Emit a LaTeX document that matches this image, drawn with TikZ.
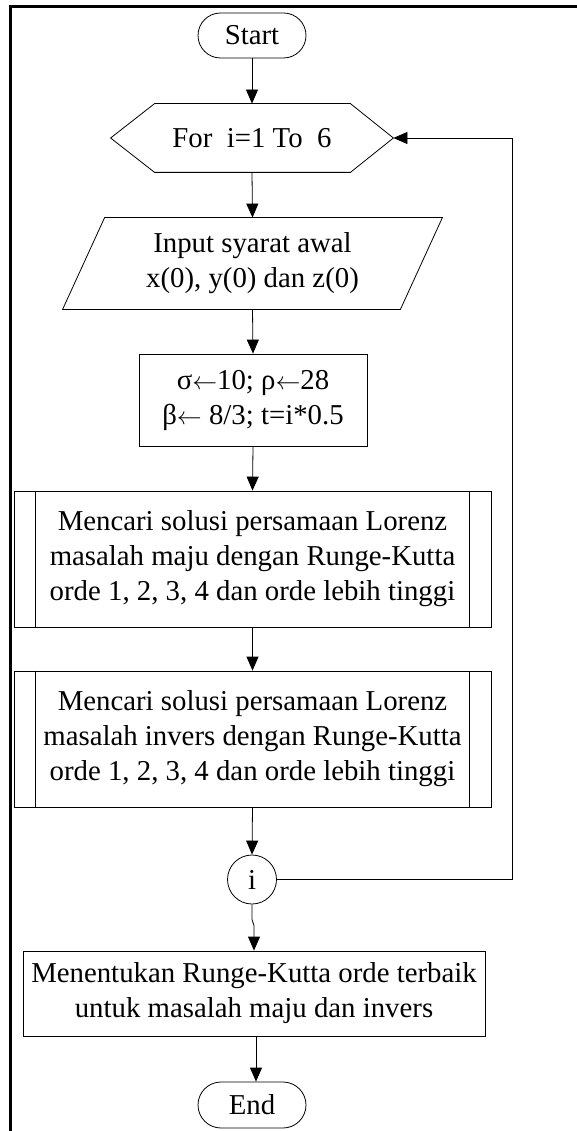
\documentclass[tikz,border=0pt]{standalone}
\usepackage{fontspec}
\setmainfont{Liberation Serif}
\usetikzlibrary{arrows.meta,shapes.misc,calc}
\newcommand{\larr}{\(\leftarrow\)}
\begin{document}
\begin{tikzpicture}[x=1pt,y=-1pt,
  base/.style={font=\fontsize{28.8}{35}\selectfont, align=center, inner sep=0pt, line width=0.8pt},
  term/.style={base, draw, rounded rectangle, minimum width=108pt, minimum height=45pt},
  ghost/.style={base, rectangle},
  boxed/.style={base, draw, rectangle},
  conn/.style={base, draw, circle, minimum size=49pt},
  shp/.style={line width=0.8pt},
  arr/.style={line width=0.8pt, -{Triangle[length=14pt,width=12pt]}}]
\useasboundingbox (0,0) rectangle (577,1131);
% frame
\draw[line width=3pt] (10,1131) -- (10,6.5) -- (577,6.5);
% nodes
\node[term] (start) at (252,35.5) {Start};
\node[ghost, minimum width=282pt, minimum height=68pt] (for) at (252,138) {For~~i=1 To~~6};
\node[ghost, minimum width=379pt, minimum height=91pt] (inp) at (252.5,263.5) {Input syarat awal\\x(0), y(0) dan z(0)};
\node[boxed, minimum width=228pt, minimum height=92pt] (par) at (253,400) {σ\larr10; ρ\larr28\\β\larr\ 8/3; t=i*0.5};
\node[boxed, minimum width=477pt, minimum height=136pt] (p1) at (252.5,559) {Mencari solusi persamaan Lorenz\\masalah maju dengan Runge-Kutta\\orde 1, 2, 3, 4 dan orde lebih tinggi};
\node[boxed, minimum width=477pt, minimum height=136pt] (p2) at (252.5,739) {Mencari solusi persamaan Lorenz\\masalah invers dengan Runge-Kutta\\orde 1, 2, 3, 4 dan orde lebih tinggi};
\node[conn] (c) at (252,879.5) {i};
\node[boxed, minimum width=462pt, minimum height=85pt] (fin) at (254,993.5) {Menentukan Runge-Kutta orde terbaik\\untuk masalah maju dan invers};
\node[term, minimum height=46pt] (end) at (252,1105) {End};
% shapes drawn by hand
\draw[shp] (for.west) -- ([xshift=44pt]for.north west) -- ([xshift=-43pt]for.north east) -- (for.east)
  -- ([xshift=-43pt]for.south east) -- ([xshift=44pt]for.south west) -- cycle;
\draw[shp] (inp.south west) -- ([xshift=42pt]inp.north west) -- (inp.north east) -- ([xshift=-42pt]inp.south east) -- cycle;
\foreach \p in {p1,p2}{
  \draw[shp] ([xshift=22pt]\p.north west) -- ([xshift=22pt]\p.south west);
  \draw[shp] ([xshift=-22pt]\p.north east) -- ([xshift=-22pt]\p.south east);
}
% connectors
\draw[arr] (start.south) -- (for.north);
\draw[arr] (for.south) -- (inp.north);
\draw[arr] (inp.south) -- (par.north);
\draw[arr] (par.south) -- (p1.north);
\draw[arr] (p1.south) -- (p2.north);
\draw[arr] (p2.south) -- (c.north);
\draw[arr] (c.south) -- ++(0,15) -- ($(fin.north)+(0,-25)$) -- (fin.north);
\draw[arr] ([xshift=2pt]fin.south) -- ([xshift=4pt]end.north);
\coordinate (lp) at (512,138);
\draw[arr] (c.east) -| (lp) -- (for.east);
\end{tikzpicture}
\end{document}
